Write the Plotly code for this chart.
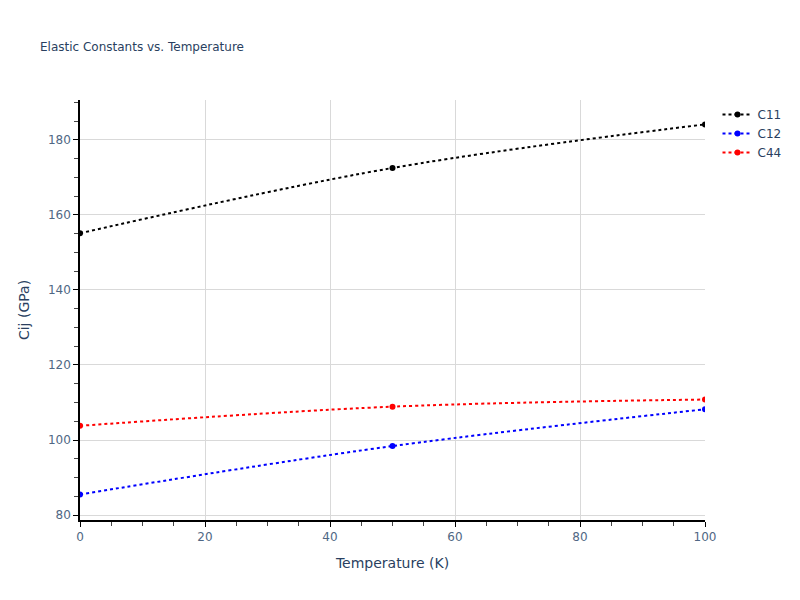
import plotly.graph_objects as go

temperature = [0, 50, 100]
c11 = [155.1, 172.5, 184.1]
c12 = [85.5, 98.4, 108.2]
c44 = [103.8, 108.9, 110.8]

series = [("C11", c11, "black"), ("C12", c12, "blue"), ("C44", c44, "red")]

fig = go.Figure()
for name, vals, color in series:
    fig.add_trace(go.Scatter(
        x=temperature, y=vals, name=name, mode="lines+markers",
        line=dict(color=color, dash="dot", shape="spline", width=2),
        marker=dict(color=color, size=6),
    ))

axis_common = dict(
    showline=True, linecolor="black", linewidth=1.5,
    ticks="outside", tickcolor="black", ticklen=5,
    tickfont=dict(color="#506784"),
    showgrid=True, gridcolor="#d9d9d9", zeroline=False,
    minor=dict(ticks="outside", ticklen=4, tickcolor="#444", showgrid=False),
)

fig.update_layout(
    template="plotly_white",
    width=800, height=600,
    font=dict(family="Verdana, DejaVu Sans, sans-serif"),
    title=dict(text="Elastic Constants vs. Temperature", x=0.04, y=0.942,
               font=dict(size=12)),
    xaxis=dict(title="Temperature (K)", range=[0, 100], dtick=20, **axis_common),
    yaxis=dict(title="Cij (GPa)", range=[78.7, 190.6], dtick=20, **axis_common),
    margin=dict(l=72, r=103, t=92, b=88),
)
fig.update_xaxes(minor=dict(dtick=5))
fig.update_yaxes(minor=dict(dtick=5))

fig.write_html("out.html")
